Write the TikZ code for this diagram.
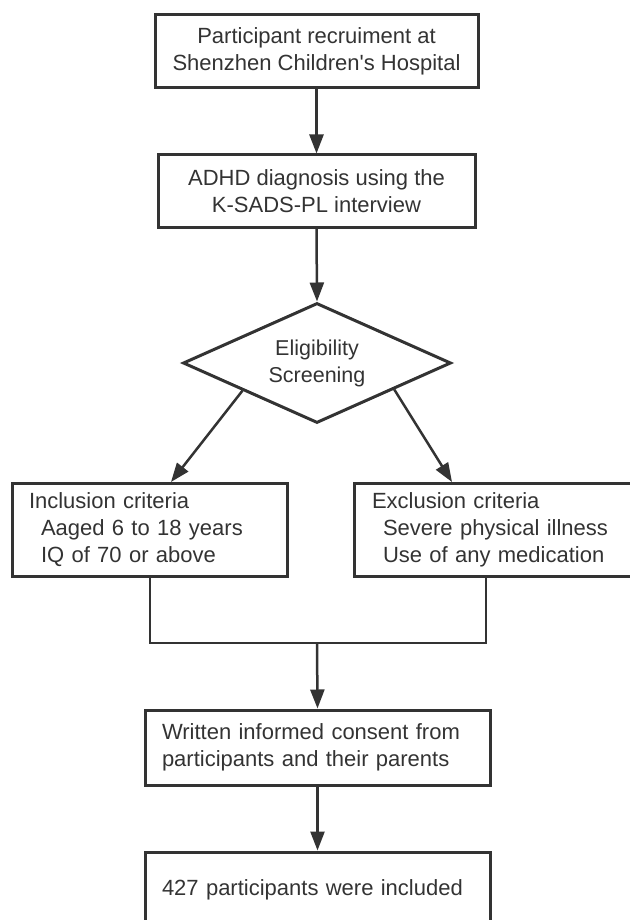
\documentclass[tikz,border=0pt]{standalone}
\usepackage{fontspec}
\newfontfamily\plainsans{Liberation Sans}
\usetikzlibrary{arrows.meta,shapes.geometric,calc}
\definecolor{ink}{HTML}{333333}
\begin{document}
\begin{tikzpicture}[x=1pt,y=-1pt,
        every node/.style={text=ink,font=\plainsans\fontsize{22}{27}\selectfont},
        stepbox/.style={draw=ink,line width=3pt,rectangle,inner sep=0pt,align=center},
        listbox/.style={draw=ink,line width=3pt,rectangle,inner xsep=17pt,inner ysep=0pt,align=left},
        flow/.style={draw=ink,line width=2.5pt,-{Triangle[length=19pt,width=14pt]}},
        linkline/.style={draw=ink,line width=2pt}]
    \useasboundingbox (0,0) rectangle (629,920);

    \node[stepbox,minimum width=323pt,minimum height=73pt] (recruit) at (316.5,51.5)
        {Participant recruiment at\\Shenzhen Children's Hospital};
    \node[stepbox,minimum width=317pt,minimum height=72pt] (diagnosis) at (316.5,191)
        {ADHD diagnosis using the\\K-SADS-PL interview};
    \node[draw=ink,line width=3pt,diamond,aspect=2.2,inner sep=0pt,align=center,
          minimum width=268pt,minimum height=120pt,font=\plainsans\fontsize{21.5}{27}\selectfont] (screen) at (317,363)
        {Eligibility\\Screening};

    \node[listbox,text width=241pt,minimum height=93pt] (incl) at (149.5,530)
        {Inclusion criteria\\\hspace*{12pt}Aaged 6 to 18 years\\\hspace*{12pt}IQ of 70 or above};
    \node[listbox,text width=244pt,minimum height=93pt,inner xsep=17pt] (excl) at (493,530)
        {\hspace*{1pt}Exclusion criteria\\\hspace*{12pt}Severe physical illness\\\hspace*{12pt}Use of any medication};

    \node[listbox,text width=311pt,minimum height=75pt] (consent) at (317.5,747.5)
        {Written informed consent from\\participants and their parents};
    \node[listbox,text width=311pt,minimum height=75pt] (final) at (317.5,889.5)
        {427 participants were included};

    \coordinate (merge) at (317,643);

    \draw[flow] (recruit.south) -- (diagnosis.north);
    \draw[flow] (diagnosis.south) -- (screen.north);
    \draw[flow] ($(screen.west)!0.45!(screen.south)$) -- ([xshift=21.5pt]incl.north);
    \draw[flow] ($(screen.east)!0.43!(screen.south)$) -- ([xshift=-41pt]excl.north);

    \draw[linkline] (incl.south) |- (merge) -| ([xshift=-7pt]excl.south);
    \draw[flow] (merge) -- (consent.north);
    \draw[flow] (consent.south) -- (final.north);
\end{tikzpicture}
\end{document}
